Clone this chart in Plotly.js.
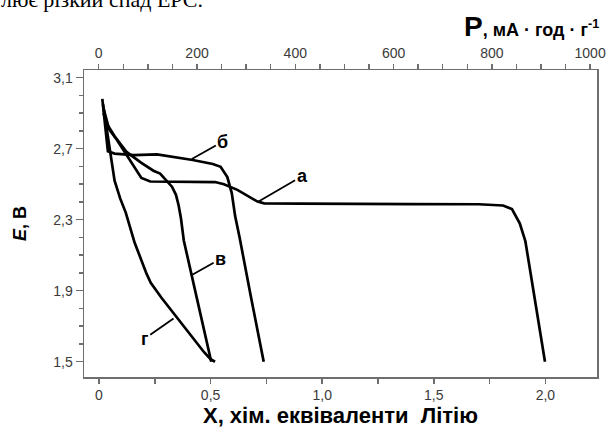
<!DOCTYPE html>
<html>
<head>
<meta charset="utf-8">
<script src="https://cdn.plot.ly/plotly-3.0.1.min.js"></script>
<style>html,body{margin:0;padding:0;background:#fff;}#chart{width:609px;height:430px;}</style>
</head>
<body>
<div id="chart"></div>
<script>
// Curve а
var aX = [0.02, 0.045, 0.08, 0.11, 0.155, 0.19, 0.23, 0.30, 0.38, 0.46, 0.52, 0.56, 0.62, 0.71, 0.74, 0.90, 1.10, 1.40, 1.70, 1.81, 1.85, 1.885, 1.91, 1.95, 1.998];
var aY = [2.93, 2.81, 2.75, 2.69, 2.60, 2.535, 2.515, 2.515, 2.515, 2.515, 2.512, 2.50, 2.468, 2.402, 2.392, 2.39, 2.388, 2.388, 2.387, 2.38, 2.36, 2.28, 2.18, 1.86, 1.5];
// Curve б
var bX = [0.015, 0.025, 0.04, 0.07, 0.155, 0.26, 0.36, 0.42, 0.51, 0.545, 0.575, 0.595, 0.61, 0.63, 0.68, 0.738];
var bY = [2.98, 2.85, 2.685, 2.672, 2.664, 2.668, 2.65, 2.636, 2.614, 2.598, 2.54, 2.45, 2.32, 2.20, 1.87, 1.5];
// Curve в
var vX = [0.02, 0.04, 0.07, 0.125, 0.19, 0.244, 0.274, 0.297, 0.327, 0.345, 0.357, 0.367, 0.38, 0.44, 0.503];
var vY = [2.90, 2.83, 2.77, 2.68, 2.62, 2.576, 2.56, 2.53, 2.486, 2.44, 2.38, 2.31, 2.183, 1.85, 1.5];
// Curve г
var gX = [0.018, 0.03, 0.05, 0.07, 0.095, 0.12, 0.16, 0.19, 0.213, 0.232, 0.28, 0.33, 0.38, 0.43, 0.47, 0.50, 0.52];
var gY = [2.95, 2.85, 2.70, 2.52, 2.42, 2.34, 2.17, 2.07, 1.996, 1.945, 1.86, 1.78, 1.70, 1.615, 1.555, 1.515, 1.50];

// Curve labels and leader lines
var labelNames = ['а', 'б', 'в', 'г'];
var labelX = [0.91, 0.555, 0.545, 0.205];
var labelY = [2.545, 2.74, 2.08, 1.63];
var pointerX = [0.715, 0.416, 0.418, 0.334];
var pointerY = [2.402, 2.642, 1.99, 1.743];

// Axis ticks
var xTickVals = [0, 0.5, 1.0, 1.5, 2.0];
var xTickText = ['0', '0,5', '1,0', '1,5', '2,0'];
var xMinorVals = [0.25, 0.75, 1.25, 1.75];
var yTickVals = [1.5, 1.9, 2.3, 2.7, 3.1];
var yTickText = ['1,5', '1,9', '2,3', '2,7', '3,1'];
var pTickVals = [0, 200, 400, 600, 800, 1000];
var pTickText = ['0', '200', '400', '600', '800', '1000'];

var lineStyle = {color: '#000', width: 2.7};
var traces = [
  {x: aX, y: aY, name: 'а'},
  {x: bX, y: bY, name: 'б'},
  {x: vX, y: vY, name: 'в'},
  {x: gX, y: gY, name: 'г'}
].map(function (t) {
  return {x: t.x, y: t.y, name: t.name, type: 'scatter', mode: 'lines', line: lineStyle, hoverinfo: 'skip'};
});
// empty trace to bind the top capacity axis
traces.push({x: [], y: [], xaxis: 'x2', yaxis: 'y', type: 'scatter', mode: 'lines', showlegend: false});

var axisColor = '#6e6e6e';
var tickFont = {family: 'Liberation Sans, Arial, sans-serif', size: 14, color: '#3a3a3a'};

var annotations = labelNames.map(function (n, i) {
  return {
    x: pointerX[i], y: pointerY[i], xref: 'x', yref: 'y',
    ax: labelX[i], ay: labelY[i], axref: 'x', ayref: 'y',
    text: '<b>' + n + '</b>', showarrow: true, arrowhead: 0, arrowwidth: 1.8, arrowcolor: '#000',
    font: {family: 'Liberation Sans, Arial, sans-serif', size: 18, color: '#000'},
    borderpad: 1
  };
});
annotations.push({
  xref: 'paper', yref: 'paper', x: 1.008, y: 1.085, xanchor: 'right', yanchor: 'bottom',
  text: '<b><span style="font-size:28px">P</span>, мА \u00b7 год \u00b7 г<sup>-1</sup></b>',
  showarrow: false, font: {family: 'Liberation Sans, Arial, sans-serif', size: 18, color: '#000'}
});
annotations.push({
  xref: 'paper', yref: 'paper', x: -0.166, y: 1.182, xanchor: 'left', yanchor: 'bottom',
  text: 'лює різкий спад ЕРС.', showarrow: false,
  font: {family: 'Liberation Serif, Times New Roman, serif', size: 22, color: '#000'}
});

var layout = {
  width: 609, height: 430,
  margin: {l: 84, r: 12, t: 70, b: 53},
  paper_bgcolor: '#fff', plot_bgcolor: '#fff',
  showlegend: false,
  xaxis: {
    range: [-0.067, 2.231], tickvals: xTickVals, ticktext: xTickText,
    ticks: 'outside', ticklen: 5, tickwidth: 1.5, tickcolor: axisColor,
    minor: {tickvals: xMinorVals, ticks: 'outside', ticklen: 5, tickwidth: 1.5, tickcolor: axisColor},
    showline: true, linecolor: axisColor, linewidth: 1.5, mirror: false,
    showgrid: false, zeroline: false, tickfont: tickFont,
    title: {text: '<b>X, хім. еквіваленти\u00a0 Літію</b>', standoff: 1,
      font: {family: 'Liberation Sans, Arial, sans-serif', size: 22, color: '#000'}}
  },
  xaxis2: {
    overlaying: 'x', side: 'top', anchor: 'y',
    range: [-30, 1014], tickvals: pTickVals, ticktext: pTickText,
    ticks: 'outside', ticklen: 5, tickwidth: 1.5, tickcolor: axisColor,
    minor: {dtick: 50, tick0: 0, ticks: 'outside', ticklen: 5, tickwidth: 1.5, tickcolor: axisColor},
    showline: true, linecolor: axisColor, linewidth: 1.5,
    showgrid: false, zeroline: false, tickfont: tickFont
  },
  yaxis: {
    range: [1.414, 3.143], tickvals: yTickVals, ticktext: yTickText,
    ticks: 'outside', ticklen: 7, tickwidth: 1.5, tickcolor: axisColor,
    minor: {dtick: 0.1, tick0: 1.5, ticks: 'outside', ticklen: 4, tickwidth: 1.5, tickcolor: axisColor},
    showline: true, linecolor: axisColor, linewidth: 1.5, mirror: true,
    showgrid: false, zeroline: false, tickfont: tickFont,
    title: {text: '<b><i>E</i>, В</b>', standoff: 22,
      font: {family: 'Liberation Sans, Arial, sans-serif', size: 18, color: '#000'}}
  },
  annotations: annotations
};

Plotly.newPlot('chart', traces, layout, {staticPlot: true, displayModeBar: false});
</script>
</body>
</html>
